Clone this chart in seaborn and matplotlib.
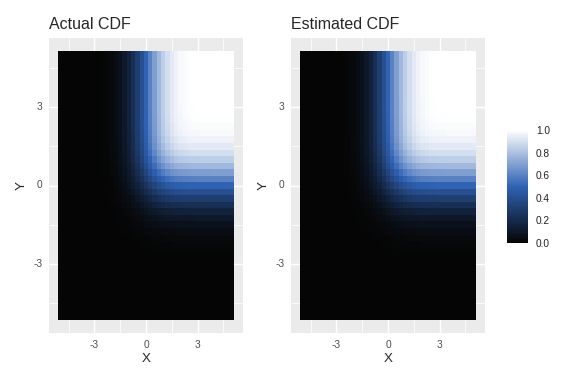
import matplotlib
matplotlib.use("Agg")
import matplotlib.pyplot as plt
import numpy as np
import pandas as pd
import seaborn as sns
from matplotlib.colors import LinearSegmentedColormap

sns.set_theme(style="darkgrid", rc={"axes.facecolor": "#EBEBEB", "grid.color": "white"})
plt.rcParams["font.family"] = ["Liberation Sans", "DejaVu Sans"]

# grid of evaluation points (same for x and y)
grid = np.arange(-5, 5.25, 0.25)

# marginal CDF values at each grid point (actual)
cdf_actual = [0.0000003, 0.000001, 0.0000034, 0.0000107, 0.0000317, 0.0000884,
              0.000233, 0.000577, 0.00135, 0.00298, 0.00621, 0.01222, 0.02275,
              0.04006, 0.06681, 0.10565, 0.15866, 0.22663, 0.30854, 0.40129, 0.5,
              0.59871, 0.69146, 0.77337, 0.84134, 0.89435, 0.93319, 0.95994,
              0.97725, 0.98778, 0.99379, 0.99702, 0.99865, 0.999423, 0.999767,
              0.999912, 0.999968, 0.999989, 0.999997, 0.999999, 1.0]
# marginal CDF values at each grid point (estimated)
cdf_est = [0, 0, 0, 0, 0, 0, 0, 0.001, 0.001, 0.003, 0.006, 0.012, 0.023,
           0.04, 0.067, 0.105, 0.159, 0.227, 0.309, 0.402, 0.501,
           0.6, 0.692, 0.774, 0.842, 0.894, 0.933, 0.96, 0.977, 0.988,
           0.994, 0.997, 0.999, 0.999, 1, 1, 1, 1, 1, 1, 1]

tick_vals = [-3, 0, 3]
minor_vals = [-4.5, -1.5, 1.5, 4.5]
cbar_ticks = [0.0, 0.2, 0.4, 0.6, 0.8, 1.0]

cmap = LinearSegmentedColormap.from_list("cdf", ["#050505", "#2f62b4", "#ffffff"])


def to_idx(v):
    # grid value -> heatmap cell centre position
    return (np.asarray(v) - grid[0]) / 0.25 + 0.5


fig = plt.figure(figsize=(6, 4), dpi=96)
ax1 = fig.add_axes([49 / 576, 51 / 384, 194 / 576, 295 / 384])
ax2 = fig.add_axes([291 / 576, 51 / 384, 194 / 576, 295 / 384])
cax = fig.add_axes([507 / 576, 141 / 384, 21 / 576, 113 / 384])

pad = 0.05 * len(grid)
for ax, marg, title in [(ax1, cdf_actual, "Actual CDF"), (ax2, cdf_est, "Estimated CDF")]:
    z = pd.DataFrame(np.outer(marg, marg), index=grid, columns=grid)
    sns.heatmap(z, ax=ax, cmap=cmap, vmin=0, vmax=1,
                cbar=(ax is ax1), cbar_ax=cax if ax is ax1 else None)
    ax.set_xlim(-pad, len(grid) + pad)
    ax.set_ylim(-pad, len(grid) + pad)
    ax.set_xticks(to_idx(tick_vals))
    ax.set_xticklabels([str(t) for t in tick_vals], rotation=0)
    ax.set_yticks(to_idx(tick_vals))
    ax.set_yticklabels([str(t) for t in tick_vals], rotation=0)
    ax.set_xticks(to_idx(minor_vals), minor=True)
    ax.set_yticks(to_idx(minor_vals), minor=True)
    ax.grid(True, which="major", color="white", lw=1.1)
    ax.grid(True, which="minor", color="white", lw=0.55)
    ax.set_axisbelow(True)
    ax.tick_params(which="major", length=2.5, width=0.8, color="#333333",
                   labelsize=7.6, labelcolor="#4D4D4D", pad=2.5)
    ax.tick_params(which="minor", length=0)
    for s in ax.spines.values():
        s.set_visible(False)
    ax.set_xlabel("X", fontsize=10, labelpad=2.5)
    ax.set_ylabel("Y", fontsize=10, labelpad=4)
    ax.set_title(title, loc="left", fontsize=12, pad=7)

cb = ax1.collections[0].colorbar
cb.set_ticks(cbar_ticks)
cb.set_ticklabels([f"{t:.1f}" for t in cbar_ticks])
cax.yaxis.set_ticks_position("both")
cax.tick_params(direction="in", length=4, width=0.6, color="white",
                labelsize=7.6, labelcolor="#222222", labelleft=False, labelright=True, pad=6)
cb.outline.set_visible(False)

fig.savefig("out.png", dpi=96)
